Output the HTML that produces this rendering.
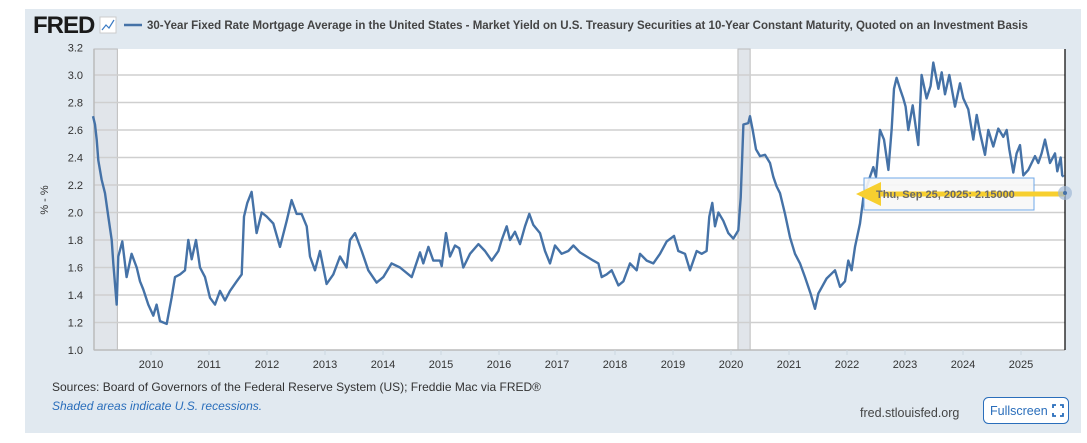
<!DOCTYPE html>
<html><head><meta charset="utf-8"><style>
body{margin:0;width:1087px;height:443px;background:#fff;overflow:hidden;font-family:"Liberation Sans",sans-serif;}
#panel{position:absolute;left:25px;top:9px;width:1056px;height:424px;background:#e1e9f0;}
svg{position:absolute;left:0;top:0;}
</style></head><body>
<div id="panel"></div>
<svg width="1087" height="443" id="chart">
<g>
<text x="33" y="33" font-size="24" font-weight="bold" fill="#1a1a1a" letter-spacing="-1">FRED</text>
<rect x="100" y="17" width="16" height="16" fill="#fff" stroke="#ccc"/>
<polyline points="102,30 106,25 109,28 114,20" fill="none" stroke="#3b7bc4" stroke-width="1.2"/>
<line x1="124" y1="25" x2="142" y2="25" stroke="#4572a7" stroke-width="2.5"/>
<text x="147" y="29" font-size="11.5" font-weight="bold" fill="#444">30-Year Fixed Rate Mortgage Average in the United States - Market Yield on U.S. Treasury Securities at 10-Year Constant Maturity, Quoted on an Investment Basis</text>
</g>
<rect x="94" y="49" width="971" height="301" fill="#fff"/>
<g id="rec"></g><g id="grid"></g><g id="ylab"></g><g id="xlab"></g>
<path id="series" fill="none" stroke="#4572a7" stroke-width="2.4" stroke-linejoin="round"/>
<line x1="1065" y1="49" x2="1065" y2="350" stroke="#000" stroke-width="1.2"/>
<text transform="translate(48,200) rotate(-90)" text-anchor="middle" font-size="11" fill="#333">% - %</text>
<g>
<rect x="864" y="178" width="170" height="32" fill="#f7f7f7" fill-opacity="0.9" stroke="#6fa8e8"/>
<line x1="878" y1="194" x2="1065" y2="194" stroke="#f7cf2f" stroke-width="5"/>
<polygon points="856,194 881,182 881,206" fill="#f7cf2f"/>
<text x="876" y="198" font-size="11" font-weight="bold" fill="#6a6a6a">Thu, Sep 25, 2025:  2.15000</text>
<circle cx="1065" cy="193" r="7" fill="#9fb8d6" fill-opacity="0.7"/>
<circle cx="1065" cy="193" r="2" fill="#4572a7"/>
</g>
<text x="52" y="391" font-size="12" fill="#333">Sources: Board of Governors of the Federal Reserve System (US); Freddie Mac via FRED®</text>
<text x="52" y="410" font-size="12" font-style="italic" fill="#2a6ebb">Shaded areas indicate U.S. recessions.</text>
<text x="860" y="417" font-size="12.5" fill="#444">fred.stlouisfed.org</text>
<g>
<rect x="983.5" y="397.5" width="85" height="26" rx="5" fill="#fff" stroke="#2a6ebb"/>
<text x="990" y="415" font-size="12.5" fill="#2a6ebb">Fullscreen</text>
<path d="M1053,408v-3h3M1060,405h3v3M1063,413v3h-3M1056,416h-3v-3" fill="none" stroke="#2a6ebb" stroke-width="1.8"/>
</g>
</svg>
<script>
const dates=[2009.0,2009.034,2009.063,2009.092,2009.149,2009.207,2009.264,2009.322,2009.35,2009.408,2009.437,2009.505,2009.58,2009.666,2009.753,2009.81,2009.868,2009.954,2010.04,2010.097,2010.155,2010.27,2010.356,2010.414,2010.5,2010.586,2010.643,2010.701,2010.776,2010.845,2010.931,2011.017,2011.103,2011.189,2011.276,2011.362,2011.477,2011.563,2011.603,2011.66,2011.735,2011.821,2011.908,2011.994,2012.109,2012.224,2012.339,2012.425,2012.511,2012.597,2012.684,2012.741,2012.827,2012.914,2013.028,2013.143,2013.258,2013.373,2013.431,2013.517,2013.632,2013.747,2013.89,2014.005,2014.149,2014.293,2014.494,2014.638,2014.695,2014.782,2014.868,2014.983,2015.012,2015.086,2015.155,2015.241,2015.316,2015.385,2015.5,2015.644,2015.759,2015.874,2015.989,2016.046,2016.132,2016.19,2016.276,2016.362,2016.448,2016.523,2016.592,2016.707,2016.793,2016.879,2016.966,2017.08,2017.195,2017.282,2017.397,2017.511,2017.626,2017.713,2017.77,2017.856,2017.943,2018.058,2018.144,2018.259,2018.374,2018.431,2018.546,2018.661,2018.776,2018.891,2019.017,2019.092,2019.207,2019.293,2019.408,2019.494,2019.58,2019.626,2019.678,2019.724,2019.782,2019.868,2019.954,2020.04,2020.126,2020.167,2020.213,2020.299,2020.328,2020.374,2020.431,2020.5,2020.586,2020.672,2020.73,2020.787,2020.845,2020.931,2021.017,2021.103,2021.19,2021.276,2021.373,2021.448,2021.506,2021.649,2021.793,2021.879,2021.965,2022.023,2022.08,2022.138,2022.224,2022.282,2022.396,2022.454,2022.5,2022.569,2022.638,2022.713,2022.77,2022.81,2022.856,2022.914,2022.971,2023.011,2023.057,2023.132,2023.23,2023.287,2023.373,2023.442,2023.488,2023.575,2023.632,2023.69,2023.764,2023.862,2023.948,2024.006,2024.092,2024.178,2024.236,2024.293,2024.379,2024.437,2024.523,2024.609,2024.695,2024.753,2024.799,2024.868,2024.925,2024.983,2025.04,2025.126,2025.241,2025.299,2025.356,2025.414,2025.5,2025.586,2025.626,2025.684,2025.71,2025.736];
const values=[2.70,2.64,2.53,2.38,2.24,2.14,1.97,1.80,1.63,1.33,1.68,1.79,1.53,1.70,1.60,1.50,1.44,1.33,1.25,1.33,1.21,1.19,1.38,1.53,1.55,1.58,1.80,1.66,1.80,1.60,1.53,1.38,1.33,1.43,1.36,1.43,1.50,1.55,1.97,2.07,2.15,1.85,2.00,1.97,1.92,1.75,1.94,2.09,1.99,1.99,1.90,1.68,1.58,1.72,1.48,1.55,1.68,1.60,1.80,1.85,1.72,1.58,1.49,1.53,1.63,1.60,1.53,1.71,1.63,1.75,1.65,1.65,1.61,1.85,1.68,1.76,1.74,1.60,1.70,1.77,1.72,1.65,1.72,1.80,1.90,1.80,1.86,1.77,1.90,1.99,1.91,1.85,1.72,1.63,1.76,1.70,1.72,1.76,1.71,1.68,1.65,1.63,1.53,1.55,1.58,1.47,1.50,1.63,1.58,1.70,1.65,1.63,1.70,1.79,1.83,1.72,1.70,1.58,1.72,1.70,1.72,1.97,2.07,1.90,2.00,1.94,1.85,1.81,1.87,2.11,2.64,2.65,2.70,2.60,2.46,2.41,2.42,2.36,2.26,2.19,2.14,1.99,1.82,1.70,1.63,1.53,1.41,1.30,1.41,1.52,1.58,1.46,1.50,1.65,1.58,1.75,1.92,2.11,2.26,2.33,2.26,2.60,2.53,2.31,2.61,2.90,2.98,2.90,2.83,2.77,2.60,2.78,2.49,3.00,2.83,2.92,3.09,2.90,3.02,2.86,3.00,2.77,2.94,2.83,2.75,2.53,2.71,2.58,2.42,2.60,2.48,2.61,2.55,2.60,2.46,2.29,2.43,2.49,2.27,2.31,2.41,2.36,2.43,2.53,2.36,2.43,2.30,2.40,2.27,2.26,2.23,2.15];
const yTicks=[1.0,1.2,1.4,1.6,1.8,2.0,2.2,2.4,2.6,2.8,3.0,3.2];
const xTicks=[2010,2011,2012,2013,2014,2015,2016,2017,2018,2019,2020,2021,2022,2023,2024,2025];
const recessions=[[2009.0,2009.42],[2020.12,2020.33]];
const X=d=>93+(d-2009)*58, Y=v=>350-(v-1)*137.5;
const NS='http://www.w3.org/2000/svg';
function mk(tag,parent,attrs){const e=document.createElementNS(NS,tag);for(const k in attrs)e.setAttribute(k,attrs[k]);document.getElementById(parent).appendChild(e);return e;}
recessions.forEach(r=>{const e=mk('rect','rec',{x:Math.max(94,X(r[0])),y:49,width:X(r[1])-Math.max(94,X(r[0])),height:301,fill:'#e1e5ea',stroke:'#bbb','stroke-width':1});

});
yTicks.forEach(v=>{if(v>1&&v<3.2){const l=mk('line','grid',{x1:94,x2:1065,y1:Y(v),y2:Y(v),stroke:'#cfcfcf','stroke-width':1.5});

}
const t=mk('text','ylab',{x:83,y:Y(v)+4,'text-anchor':'end','font-size':11,fill:'#333'});t.textContent=v.toFixed(1);

});
mk('line','grid',{x1:94,x2:1065,y1:350,y2:350,stroke:'#bbb','stroke-width':1.5});
mk('line','grid',{x1:94,x2:94,y1:49,y2:350,stroke:'#bbb','stroke-width':1.5});
xTicks.forEach(yr=>{const x=X(yr);mk('line','xlab',{x1:x,x2:x,y1:350,y2:355,stroke:'#ccd6e0'});
const t=mk('text','xlab',{x:x,y:368,'text-anchor':'middle','font-size':11,fill:'#333'});t.textContent=yr;

});
let d='';dates.forEach((dt,i)=>{d+=(i?'L':'M')+X(dt).toFixed(1)+','+Y(values[i]).toFixed(1);});
document.getElementById('series').setAttribute('d',d);
</script>
</body></html>
